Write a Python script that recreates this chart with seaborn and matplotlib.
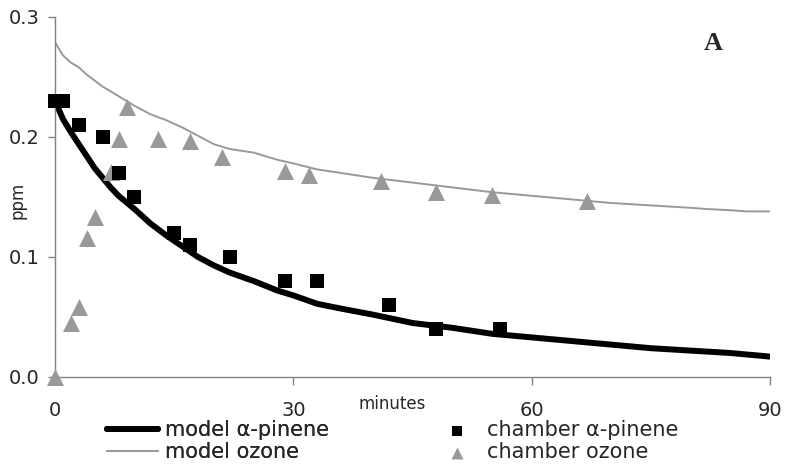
import matplotlib
matplotlib.use("Agg")
import matplotlib.pyplot as plt
import seaborn as sns

# ---- data ----
model_t = [0, 1, 2, 3, 4, 5, 6, 7, 8, 10, 12, 14, 16, 18, 20, 22, 25, 28, 30, 33,
           36, 40, 45, 50, 55, 60, 65, 70, 75, 80, 85, 90]
model_apinene = [0.230, 0.215, 0.204, 0.194, 0.184, 0.174, 0.166, 0.158, 0.151, 0.140,
                 0.128, 0.118, 0.109, 0.100, 0.093, 0.087, 0.080, 0.072, 0.068, 0.061,
                 0.057, 0.052, 0.045, 0.041, 0.036, 0.033, 0.030, 0.027, 0.024, 0.022,
                 0.020, 0.017]
ozone_t = [0, 1, 2, 3, 4, 5, 6, 7, 8, 10, 12, 14, 16, 18, 20, 22, 25, 28, 30, 33,
           36, 40, 45, 50, 55, 60, 65, 70, 75, 80, 82, 85, 87, 90]
model_ozone = [0.279, 0.268, 0.262, 0.258, 0.252, 0.247, 0.242, 0.238, 0.234, 0.226,
               0.219, 0.214, 0.208, 0.201, 0.194, 0.190, 0.187, 0.181, 0.178, 0.173,
               0.170, 0.166, 0.162, 0.158, 0.154, 0.151, 0.148, 0.145, 0.143, 0.141,
               0.140, 0.139, 0.138, 0.138]
chamber_ap_t = [0, 1, 3, 6, 8, 10, 15, 17, 22, 29, 33, 42, 48, 56]
chamber_ap = [0.23, 0.23, 0.21, 0.20, 0.17, 0.15, 0.12, 0.11, 0.10, 0.08, 0.08, 0.06, 0.04, 0.04]
chamber_oz_t = [0, 2, 3, 4, 5, 7, 8, 9, 13, 17, 21, 29, 32, 41, 48, 55, 67]
chamber_oz = [0.0, 0.045, 0.058, 0.116, 0.133, 0.171, 0.198, 0.225, 0.198, 0.197, 0.183,
              0.172, 0.168, 0.163, 0.154, 0.152, 0.147]
x_ticks = [0, 30, 60, 90]
y_ticks = [0.0, 0.1, 0.2, 0.3]
y_ticklabels = ["0.0", "0.1", "0.2", "0.3"]

sns.set_style("white")
plt.rcParams['font.family'] = ['DejaVu Sans']

GRAY = '#999999'
SPINE = '#808080'

fig = plt.figure(figsize=(7.85, 4.72), dpi=100)
ax = fig.add_axes([55/785, 1-377/472, (770-55)/785, (377-17)/472])

sns.lineplot(x=ozone_t, y=model_ozone, ax=ax, color=GRAY, linewidth=1.4,
             label='model ozone', legend=False)
sns.lineplot(x=model_t, y=model_apinene, ax=ax, color='black', linewidth=4.3,
             label='model α-pinene', legend=False)
sns.scatterplot(x=chamber_oz_t, y=chamber_oz, ax=ax, color=GRAY, marker='^', s=150,
                linewidth=0, label='chamber ozone', legend=False, clip_on=False, zorder=3)
sns.scatterplot(x=chamber_ap_t, y=chamber_ap, ax=ax, color='black', marker='s', s=100,
                linewidth=0, label='chamber α-pinene', legend=False, clip_on=False, zorder=4)

ax.set_xlim(0, 90)
ax.set_ylim(0, 0.3)
ax.set_xticks(x_ticks)
ax.set_yticks(y_ticks)
ax.set_yticklabels(y_ticklabels)
for s in ['top', 'right']:
    ax.spines[s].set_visible(False)
for s in ['left', 'bottom']:
    ax.spines[s].set_color(SPINE)
    ax.spines[s].set_linewidth(1.0)
ax.tick_params(axis='y', direction='out', length=5, width=1, color=SPINE,
               labelsize=14, pad=6, left=True)
ax.tick_params(axis='x', direction='out', length=6, width=1, color=SPINE,
               labelsize=14, pad=11.5, bottom=True)
ax.set_xlabel('')
ax.set_ylabel('')
fig.text(392/785, 1-404/472, 'minutes', ha='center', va='center', fontsize=12)
fig.text(18/785, 1-200/472, 'ppm', ha='center', va='center', fontsize=12, rotation=90)
fig.text(713/785, 1-43/472, 'A', ha='center', va='center', fontsize=19,
         fontweight='bold', family='Liberation Serif')

handles, labels = ax.get_legend_handles_labels()
hd = dict(zip(labels, handles))
leg1 = fig.legend([hd['model α-pinene'], hd['model ozone']],
                  ['model α-pinene', 'model ozone'],
                  loc='upper left', bbox_to_anchor=(107/785, 1-420/472),
                  frameon=False, fontsize=15, handlelength=2.45, handletextpad=0.35,
                  labelspacing=0.1, borderpad=0, borderaxespad=0)
leg2 = fig.legend([hd['chamber α-pinene'], hd['chamber ozone']],
                  ['chamber α-pinene', 'chamber ozone'],
                  loc='upper left', bbox_to_anchor=(447/785, 1-420/472),
                  frameon=False, fontsize=15, handlelength=1.0, handletextpad=0.9,
                  labelspacing=0.1, borderpad=0, borderaxespad=0, markerscale=0.7)
fig.add_artist(leg1)

fig.savefig('out.png', dpi=100)
